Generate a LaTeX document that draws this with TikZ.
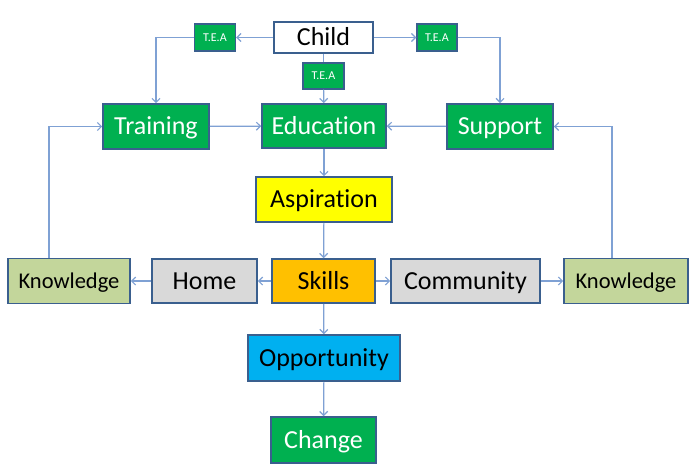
\documentclass[tikz,border=0pt]{standalone}
\usepackage{fontspec}
\setmainfont{Carlito}[Ligatures=NoCommon]
\usetikzlibrary{arrows.meta}
\definecolor{boxline}{HTML}{3A5F8E}
\definecolor{wire}{HTML}{7FA1D4}
\definecolor{grn}{HTML}{00B050}
\definecolor{yel}{HTML}{FFFF00}
\definecolor{org}{HTML}{FFC000}
\definecolor{sky}{HTML}{00B0F0}
\definecolor{olive}{HTML}{C3D69B}
\definecolor{gry}{HTML}{D9D9D9}
\begin{document}
\begin{tikzpicture}[x=1pt,y=-1pt,
  box/.style={draw=boxline,line width=1.6pt,inner sep=0pt,text height=16.6pt,text depth=0pt,
    font=\fontsize{26}{28}\selectfont},
  small/.style={text height=14.4pt,font=\fontsize{22.5}{24}\selectfont},
  gbox/.style={box,fill=grn,text=white},
  tea/.style={draw=boxline,line width=1.4pt,fill=grn,text=white,inner sep=0pt,
    text height=7.7pt,text depth=0pt,
    minimum width=41pt,minimum height=27pt,font=\fontsize{12}{13}\selectfont},
  arr/.style={draw=wire,line width=1.2pt,-{Straight Barb[length=4pt,width=8pt]}},
  ln/.style={draw=wire,line width=1.2pt}]
\fill[white] (0,0) rectangle (691,474);
% top row
\node[box,fill=white,minimum width=99pt,minimum height=31pt] (child) at (323.5,37.5) {Child};
\node[tea] (teaL) at (215,37.5) {T.E.A};
\node[tea,minimum width=40pt] (teaR) at (437,37.5) {T.E.A};
\node[tea,minimum height=26pt] (teaM) at (323.5,76) {T.E.A};
% second row
\node[gbox,minimum width=106pt,minimum height=45pt] (train) at (156,126.5) {Training};
\node[gbox,minimum width=124pt,minimum height=44pt] (edu) at (324,126) {Education};
\node[gbox,minimum width=106pt,minimum height=45pt] (supp) at (500,126.5) {Support};
% centre column
\node[box,fill=yel,minimum width=136pt,minimum height=45pt] (asp) at (324,199.5) {Aspiration};
\node[box,fill=org,minimum width=103pt,minimum height=44pt] (skills) at (323.5,281) {Skills};
\node[box,fill=sky,minimum width=152pt,minimum height=46pt] (opp) at (324,358) {Opportunity};
\node[gbox,minimum width=105pt,minimum height=46pt] (change) at (323.5,440) {Change};
% skills row
\node[box,fill=gry,minimum width=105pt,minimum height=44pt] (home) at (204.5,281) {Home};
\node[box,fill=gry,minimum width=149pt,minimum height=44pt] (comm) at (465.5,281) {Community};
\node[box,small,fill=olive,minimum width=122pt,minimum height=45pt] (knowL) at (69,281) {Knowledge};
\node[box,small,fill=olive,minimum width=124pt,minimum height=45pt] (knowR) at (626,281) {Knowledge};
% connectors from the child
\draw[arr] (child) -- (teaL);
\draw[arr] (child) -- (teaR);
\draw[ln] (child) -- (teaM);
\draw[arr] (teaL.west) -| (train.north);
\draw[arr] (teaR.east) -| (supp.north);
\draw[arr] (teaM) -- (edu);
% into education
\draw[arr] (train) -- (edu);
\draw[arr] (supp) -- (edu);
% down the centre
\draw[arr] (edu) -- (asp);
\draw[arr] (asp) -- (skills);
\draw[arr] (skills) -- (opp);
\draw[arr] (opp) -- (change);
% sideways from skills
\draw[arr] (skills) -- (home);
\draw[arr] (home) -- (knowL);
\draw[arr] (skills) -- (comm);
\draw[arr] (comm) -- (knowR);
% feedback loops
\draw[arr] ([xshift=-20pt]knowL.north) |- (train.west);
\draw[arr] ([xshift=-14pt]knowR.north) |- (supp.east);
\end{tikzpicture}
\end{document}
